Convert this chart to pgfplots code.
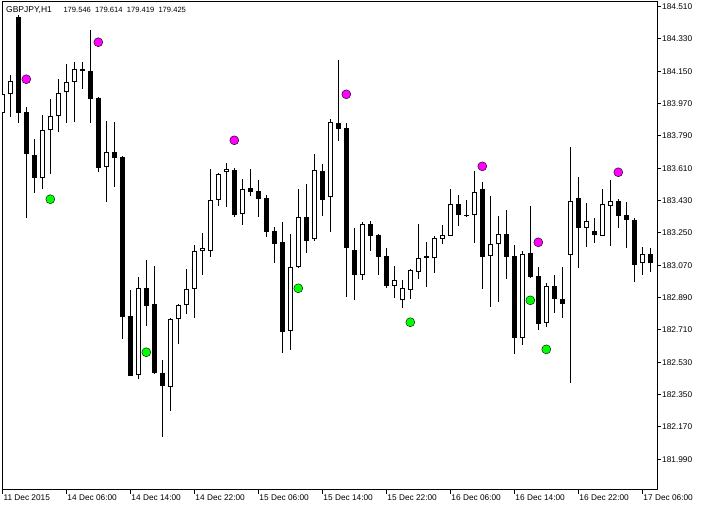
\documentclass[border=0pt]{standalone}
\usepackage{fontspec}
\setmainfont{Liberation Sans}
\usepackage{pgfplots}
\usepackage{pgfplotstable}
\pgfplotsset{compat=1.18}

\definecolor{mtmag}{RGB}{255,0,255}
\definecolor{mtgreen}{RGB}{0,255,0}

% GBPJPY H1 bars: index, open, high, low, close
\pgfplotstableread{
x o h l c
0 183.920 184.030 183.913 184.022
1 184.022 184.130 183.898 184.096
2 184.451 184.464 183.861 183.916
3 183.922 183.950 183.335 183.688
4 183.684 183.773 183.474 183.555
5 183.555 183.907 183.493 183.822
6 183.822 183.996 183.577 183.900
7 183.900 184.107 183.814 184.028
8 184.033 184.191 183.864 184.091
9 184.091 184.202 183.870 184.161
10 184.163 184.202 184.052 184.154
11 184.152 184.380 183.861 183.998
12 184.002 184.007 183.591 183.614
13 183.616 183.874 183.424 183.701
14 183.703 183.870 183.508 183.665
15 183.673 183.679 182.660 182.784
16 182.788 182.933 182.451 182.455
17 182.461 183.007 182.435 182.944
18 182.944 183.100 182.734 182.845
19 182.855 183.066 182.465 182.472
20 182.470 182.543 182.116 182.400
21 182.394 182.777 182.260 182.771
22 182.769 182.855 182.632 182.849
23 182.847 183.050 182.799 182.937
24 182.937 183.183 182.778 183.150
25 183.148 183.252 183.016 183.166
26 183.148 183.606 183.115 183.434
27 183.434 183.586 183.402 183.580
28 183.588 183.640 183.396 183.605
29 183.601 183.610 183.341 183.350
30 183.354 183.551 183.296 183.493
31 183.499 183.606 183.458 183.480
32 183.484 183.545 183.341 183.441
33 183.445 183.462 183.229 183.257
34 183.261 183.283 183.085 183.190
35 183.200 183.313 182.580 182.700
36 182.706 183.244 182.599 183.061
37 183.059 183.495 183.055 183.339
38 183.339 183.523 183.140 183.207
39 183.215 183.690 183.207 183.601
40 183.595 183.634 183.346 183.435
41 183.449 183.885 183.254 183.868
42 183.862 184.213 183.764 183.831
43 183.835 183.861 182.895 183.165
44 183.155 183.278 182.879 183.018
45 183.018 183.313 182.988 183.300
46 183.300 183.317 183.151 183.235
47 183.239 183.242 183.018 183.118
48 183.122 183.166 182.942 182.957
49 182.957 183.068 182.890 182.988
50 182.875 182.988 182.831 182.942
51 182.934 183.051 182.884 183.044
52 183.035 183.300 182.994 183.111
53 183.120 183.200 182.951 183.112
54 183.109 183.233 183.029 183.220
55 183.218 183.295 183.190 183.237
56 183.232 183.495 183.231 183.410
57 183.411 183.462 183.291 183.349
58 183.350 183.434 183.337 183.345
59 183.349 183.595 183.196 183.477
60 183.495 183.534 182.940 183.118
61 183.120 183.456 182.840 183.187
62 183.187 183.345 182.866 183.243
63 183.243 183.378 182.992 183.115
64 183.122 183.183 182.578 182.667
65 182.667 183.150 182.626 183.133
66 183.139 183.402 183.001 183.007
67 183.011 183.062 182.710 182.745
68 182.751 182.973 182.728 182.955
69 182.955 183.016 182.806 182.881
70 182.883 183.062 182.778 182.856
71 183.129 183.731 182.416 183.427
72 183.445 183.562 183.057 183.280
73 183.280 183.417 183.174 183.317
74 183.261 183.334 183.196 183.237
75 183.232 183.495 183.231 183.410
76 183.402 183.545 183.179 183.427
77 183.428 183.438 183.280 183.346
78 183.350 183.424 183.168 183.324
79 183.322 183.332 182.979 183.074
80 183.081 183.172 183.018 183.131
81 183.133 183.166 183.035 183.081
}\candles

% fractal-style markers
\pgfplotstableread{
x y
3 184.106
12 184.312
29 183.766
43 184.022
60 183.621
67 183.198
77 183.588
}\upmarks

\pgfplotstableread{
x y
6 183.438
18 182.586
37 182.942
51 182.753
66 182.875
68 182.602
}\downmarks

\begin{document}
\begin{tikzpicture}
\begin{axis}[
  at={(0,0)}, anchor=south west,
  scale only axis, width=655pt, height=488pt,
  xmin=-0.0375, xmax=81.84,
  ymin=181.819, ymax=184.536,
  axis line style={black, line width=1pt},
  tick style={black, line width=1pt},
  tick align=outside, major tick length=4pt,
  xtick pos=lower, ytick pos=right,
  yticklabel pos=right,
  xtick={0,8,...,80},
  xticklabels={11 Dec 2015, 14 Dec 06:00, 14 Dec 14:00, 14 Dec 22:00, 15 Dec 06:00, 15 Dec 14:00, 15 Dec 22:00, 16 Dec 06:00, 16 Dec 14:00, 16 Dec 22:00, 17 Dec 06:00},
  ytick={181.99,182.17,182.35,182.53,182.71,182.89,183.07,183.25,183.43,183.61,183.79,183.97,184.15,184.33,184.51},
  scaled y ticks=false,
  ticklabel style={font=\fontsize{8.3}{9}\selectfont, inner sep=0pt},
  yticklabel style={anchor=west, xshift=1pt,
    /pgf/number format/fixed, /pgf/number format/fixed zerofill,
    /pgf/number format/precision=3, /pgf/number format/assume math mode=true},
  xticklabel style={anchor=north west, xshift=1pt, yshift=-0.5pt},
  clip=true,
]
% wicks
\addplot[draw=none, mark=none, forget plot,
  error bars/.cd, y dir=plus, y explicit, error mark=none,
  error bar style={draw=black, solid, line width=1pt, line cap=butt}]
  table[x=x, y=l, y error plus expr=\thisrow{h}-\thisrow{l}] {\candles};
% bodies (black layer)
\addplot[draw=none, mark=none, forget plot,
  error bars/.cd, y dir=plus, y explicit, error mark=none,
  error bar style={draw=black, solid, line width=5pt, line cap=butt}]
  table[x=x, y expr={min(\thisrow{o},\thisrow{c})},
        y error plus expr={max(abs(\thisrow{c}-\thisrow{o}),0.0056)}] {\candles};
% hollow interior of rising bars
\addplot[draw=none, mark=none, forget plot,
  error bars/.cd, y dir=plus, y explicit, error mark=none,
  error bar style={draw=white, solid, line width=3pt, line cap=butt}]
  table[x=x, y expr={min(\thisrow{o},\thisrow{c})+0.0056},
        y error plus expr={(\thisrow{c}>\thisrow{o})*max(\thisrow{c}-\thisrow{o}-0.0112,0)}] {\candles};
% markers
\addplot[only marks, mark=*, mark size=4.5pt, mark options={draw=none, fill=mtmag}]
  table[x=x, y=y] {\upmarks};
\addplot[only marks, mark=*, mark size=4.5pt, mark options={draw=none, fill=mtgreen}]
  table[x=x, y=y] {\downmarks};
\end{axis}
\node[anchor=north west, inner sep=0pt, font=\fontsize{8.5}{9}\selectfont] at (4pt,483.5pt) {GBPJPY,H1};
\begin{scope}[font=\fontsize{7.6}{9}\selectfont]
\node[anchor=north west, inner sep=0pt] at (61.3pt,483.3pt) {179.546};
\node[anchor=north west, inner sep=0pt] at (93pt,483.3pt) {179.614};
\node[anchor=north west, inner sep=0pt] at (124.7pt,483.3pt) {179.419};
\node[anchor=north west, inner sep=0pt] at (156.3pt,483.3pt) {179.425};
\end{scope}
\pgfresetboundingbox
\path[use as bounding box] (-2pt,-20pt) rectangle (707pt,490pt);
\end{tikzpicture}
\end{document}
